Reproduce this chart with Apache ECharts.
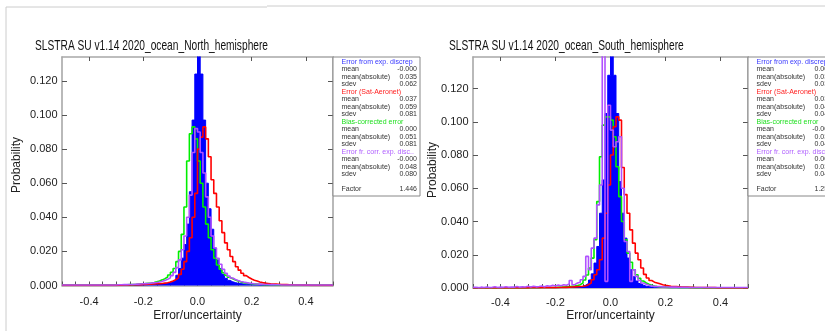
<!DOCTYPE html>
<html>
<head>
<meta charset="utf-8">
<script src="https://cdn.jsdelivr.net/npm/echarts@6/dist/echarts.min.js"></script>
<style>html,body{margin:0;padding:0;background:#fff}#c{width:825px;height:331px}</style>
</head>
<body>
<div id="c"></div>
<script>
// ---- data ----
const binStart = -0.5;
const binWidth = 0.01;
const xTickLabels = [-0.4, -0.2, 0, 0.2, 0.4];
const yTickLabels = [0, 0.02, 0.04, 0.06, 0.08, 0.10, 0.12];
const titles = ['SLSTRA SU v1.14 2020_ocean_North_hemisphere', 'SLSTRA SU v1.14 2020_ocean_South_hemisphere'];
const legendTitles = ['Error from exp. discrep', 'Error (Sat-Aeronet)', 'Bias-corrected error', 'Error fr. corr. exp. disc..'];
const statNames = ['mean', 'mean(absolute)', 'sdev'];
const statsNorth = [['-0.000','0.035','0.062'],['0.037','0.059','0.081'],['0.000','0.051','0.081'],['-0.000','0.048','0.080']];
const statsSouth = [['0.004','0.031','0.039'],['0.034','0.043','0.047'],['-0.000','0.032','0.045'],['0.004','0.033','0.043']];
const factorNorth = '1.446';
const factorSouth = '1.253';

const nBlue = [
0.0001,0.0001,0.0001,0.0001,0.0001,0.0001,0.0001,0.0001,0.0001,0.0001,
0.0001,0.0001,0.0001,0.0001,0.0001,0.0001,0.0001,0.0001,0.0001,0.0001,
0.0002,0.0002,0.0002,0.0003,0.0003,0.0003,0.0004,0.0004,0.0005,0.0005,
0.0006,0.0006,0.0007,0.0008,0.0009,0.0010,0.0011,0.0012,0.0014,0.0018,
0.0024,0.0035,0.0060,0.0100,0.0160,0.0240,0.0360,0.0550,0.0970,0.1240,
0.1700,0.1240,0.0970,0.0600,0.0450,0.0330,0.0220,0.0150,0.0100,0.0065,
0.0042,0.0030,0.0022,0.0017,0.0013,0.0011,0.0009,0.0008,0.0007,0.0006,
0.0005,0.0005,0.0004,0.0004,0.0003,0.0003,0.0003,0.0002,0.0002,0.0002,
0.0001,0.0001,0.0001,0.0001,0.0001,0.0001,0.0001,0.0001,0.0001,0.0001,
0.0001,0.0001,0.0001,0.0001,0.0001,0.0001,0.0001,0.0001,0.0001,0.0001];
const nRed = [
0.0001,0.0001,0.0001,0.0001,0.0001,0.0001,0.0001,0.0001,0.0001,0.0001,
0.0001,0.0001,0.0001,0.0001,0.0001,0.0001,0.0001,0.0001,0.0001,0.0001,
0.0002,0.0002,0.0003,0.0003,0.0003,0.0004,0.0004,0.0005,0.0005,0.0006,
0.0006,0.0007,0.0008,0.0009,0.0010,0.0011,0.0012,0.0014,0.0016,0.0020,
0.0026,0.0034,0.0045,0.0065,0.0095,0.0140,0.0200,0.0280,0.0400,0.0540,
0.0800,0.0870,0.0930,0.0860,0.0755,0.0620,0.0540,0.0460,0.0380,0.0310,
0.0250,0.0210,0.0170,0.0140,0.0110,0.0090,0.0072,0.0058,0.0047,0.0038,
0.0031,0.0026,0.0021,0.0017,0.0014,0.0012,0.0010,0.0009,0.0008,0.0007,
0.0006,0.0005,0.0005,0.0004,0.0004,0.0003,0.0003,0.0003,0.0002,0.0002,
0.0002,0.0001,0.0001,0.0001,0.0001,0.0001,0.0001,0.0001,0.0001,0.0001];
const nGreen = [
0.0002,0.0002,0.0002,0.0002,0.0002,0.0002,0.0002,0.0002,0.0002,0.0002,
0.0002,0.0002,0.0002,0.0002,0.0002,0.0002,0.0002,0.0002,0.0002,0.0002,
0.0003,0.0003,0.0004,0.0004,0.0005,0.0005,0.0006,0.0007,0.0008,0.0009,
0.0011,0.0013,0.0015,0.0018,0.0022,0.0027,0.0033,0.0040,0.0050,0.0062,
0.0078,0.0100,0.0140,0.0200,0.0300,0.0460,0.0730,0.0890,0.0930,0.0860,
0.0730,0.0600,0.0460,0.0360,0.0280,0.0210,0.0160,0.0120,0.0095,0.0075,
0.0060,0.0048,0.0039,0.0032,0.0026,0.0021,0.0017,0.0014,0.0012,0.0010,
0.0009,0.0008,0.0007,0.0006,0.0005,0.0005,0.0004,0.0004,0.0003,0.0003,
0.0002,0.0002,0.0002,0.0002,0.0002,0.0002,0.0002,0.0002,0.0002,0.0002,
0.0002,0.0002,0.0002,0.0002,0.0002,0.0002,0.0002,0.0002,0.0002,0.0002];
const nPurple = [
0.0003,0.0003,0.0003,0.0003,0.0003,0.0003,0.0003,0.0003,0.0003,0.0003,
0.0003,0.0003,0.0003,0.0003,0.0003,0.0003,0.0003,0.0003,0.0003,0.0003,
0.0004,0.0004,0.0005,0.0005,0.0006,0.0006,0.0007,0.0008,0.0009,0.0010,
0.0011,0.0012,0.0014,0.0016,0.0018,0.0021,0.0025,0.0030,0.0036,0.0045,
0.0058,0.0077,0.0105,0.0150,0.0210,0.0290,0.0400,0.0530,0.0780,0.0920,
0.0900,0.0780,0.0660,0.0520,0.0400,0.0290,0.0220,0.0160,0.0125,0.0095,
0.0072,0.0056,0.0044,0.0035,0.0029,0.0024,0.0020,0.0017,0.0014,0.0012,
0.0010,0.0009,0.0008,0.0007,0.0006,0.0006,0.0005,0.0005,0.0004,0.0004,
0.0003,0.0003,0.0003,0.0003,0.0003,0.0003,0.0003,0.0003,0.0003,0.0003,
0.0003,0.0003,0.0003,0.0003,0.0003,0.0003,0.0003,0.0003,0.0003,0.0003];

const sBlue = [
0.0001,0.0001,0.0001,0.0001,0.0001,0.0001,0.0001,0.0001,0.0001,0.0001,
0.0001,0.0001,0.0001,0.0001,0.0001,0.0001,0.0001,0.0001,0.0001,0.0001,
0.0001,0.0001,0.0001,0.0001,0.0002,0.0002,0.0002,0.0002,0.0002,0.0002,
0.0002,0.0003,0.0003,0.0004,0.0004,0.0005,0.0006,0.0007,0.0008,0.0010,
0.0017,0.0028,0.0048,0.0085,0.0150,0.0250,0.0450,0.0650,0.1050,0.1280,
0.1800,0.1280,0.1050,0.0640,0.0450,0.0300,0.0180,0.0110,0.0068,0.0042,
0.0027,0.0017,0.0011,0.0008,0.0006,0.0005,0.0004,0.0003,0.0003,0.0002,
0.0002,0.0001,0.0001,0.0001,0.0001,0.0001,0.0001,0.0001,0.0001,0.0001,
0.0001,0.0001,0.0001,0.0001,0.0001,0.0001,0.0001,0.0001,0.0001,0.0001,
0.0001,0.0001,0.0001,0.0001,0.0001,0.0001,0.0001,0.0001,0.0001,0.0001];
const sRed = [
0.0001,0.0001,0.0001,0.0001,0.0001,0.0001,0.0001,0.0001,0.0001,0.0001,
0.0001,0.0001,0.0001,0.0001,0.0001,0.0001,0.0001,0.0001,0.0001,0.0001,
0.0002,0.0002,0.0002,0.0002,0.0002,0.0002,0.0002,0.0002,0.0002,0.0002,
0.0003,0.0003,0.0004,0.0004,0.0005,0.0006,0.0007,0.0008,0.0009,0.0011,
0.0014,0.0020,0.0030,0.0050,0.0080,0.0110,0.0170,0.0300,0.0450,0.0620,
0.0800,0.0970,0.1030,0.1010,0.0725,0.0562,0.0450,0.0350,0.0270,0.0210,
0.0170,0.0120,0.0082,0.0060,0.0045,0.0035,0.0030,0.0025,0.0020,0.0016,
0.0013,0.0010,0.0009,0.0008,0.0007,0.0006,0.0005,0.0005,0.0004,0.0004,
0.0003,0.0003,0.0003,0.0002,0.0002,0.0002,0.0002,0.0002,0.0001,0.0001,
0.0001,0.0001,0.0001,0.0001,0.0001,0.0001,0.0001,0.0001,0.0001,0.0001];
const sGreen = [
0.0001,0.0001,0.0001,0.0001,0.0001,0.0001,0.0001,0.0001,0.0001,0.0001,
0.0001,0.0001,0.0001,0.0001,0.0001,0.0001,0.0001,0.0001,0.0001,0.0001,
0.0002,0.0002,0.0002,0.0002,0.0003,0.0003,0.0003,0.0003,0.0003,0.0003,
0.0004,0.0005,0.0006,0.0007,0.0008,0.0010,0.0012,0.0015,0.0020,0.0030,
0.0048,0.0078,0.0120,0.0180,0.0290,0.0520,0.0790,0.0980,0.1030,0.1030,
0.1010,0.0910,0.0730,0.0550,0.0400,0.0290,0.0210,0.0155,0.0110,0.0080,
0.0058,0.0042,0.0030,0.0022,0.0016,0.0012,0.0009,0.0007,0.0006,0.0005,
0.0004,0.0003,0.0003,0.0003,0.0002,0.0002,0.0002,0.0002,0.0002,0.0002,
0.0001,0.0001,0.0001,0.0001,0.0001,0.0001,0.0001,0.0001,0.0001,0.0001,
0.0001,0.0001,0.0001,0.0001,0.0001,0.0001,0.0001,0.0001,0.0001,0.0001];
const sPurple = [
0.0004,0.0002,0.0005,0.0003,0.0006,0.0003,0.0004,0.0007,0.0003,0.0005,
0.0004,0.0008,0.0004,0.0006,0.0005,0.0009,0.0005,0.0007,0.0006,0.0010,
0.0006,0.0011,0.0007,0.0009,0.0012,0.0008,0.0014,0.0010,0.0016,0.0012,
0.0018,0.0014,0.0020,0.0016,0.0024,0.0045,0.0020,0.0030,0.0035,0.0050,
0.0070,0.0190,0.0110,0.0240,0.0300,0.0500,0.0620,0.1600,0.0040,0.1100,
0.0950,0.0850,0.0880,0.0910,0.0600,0.0280,0.0220,0.0040,0.0110,0.0070,
0.0045,0.0030,0.0022,0.0017,0.0013,0.0010,0.0009,0.0008,0.0007,0.0006,
0.0006,0.0005,0.0005,0.0005,0.0004,0.0004,0.0004,0.0004,0.0003,0.0003,
0.0003,0.0003,0.0003,0.0003,0.0003,0.0003,0.0003,0.0003,0.0003,0.0003,
0.0003,0.0003,0.0003,0.0003,0.0003,0.0003,0.0003,0.0003,0.0003,0.0003];

// ---- styling / layout ----
const FONT = "'Liberation Sans', Arial, Helvetica, sans-serif";
const colBlue = '#0000ff', colRed = '#ff0000', colGreen = '#00ee00', colPurple = '#b050ff';
const legendColors = ['#3a3aff', '#ff2020', '#22e022', '#b060ff'];
const panels = [
  { grid: { left: 62, top: 57, width: 271, height: 228.5 }, ymax: 0.134, labelMargin: 11, series: [nBlue, nGreen, nRed, nPurple], stats: statsNorth, factor: factorNorth, boxX: 333, titleX: 35, ylabX: 16.5, ylabY: 165 },
  { grid: { left: 473, top: 57, width: 275, height: 231 }, ymax: 0.139, labelMargin: 9, series: [sBlue, sGreen, sRed, sPurple], stats: statsSouth, factor: factorSouth, boxX: 748, titleX: 449, ylabX: 432.5, ylabY: 170 }
];

function stepData(vals) {
  const d = vals.map((v, i) => [+(binStart + i * binWidth).toFixed(2), v]);
  d.push([+(binStart + vals.length * binWidth).toFixed(2), vals[vals.length - 1]]);
  return d;
}

const grid = [], xAxis = [], yAxis = [], series = [], graphic = [];
const axisLineStyle = { color: '#a8a8a8', width: 1.6 };
const tickStyle = { color: '#555', width: 1 };

panels.forEach((p, k) => {
  grid.push(p.grid);
  xAxis.push({
    gridIndex: k, type: 'value', min: -0.5, max: 0.5, interval: 0.05, position: 'bottom',
    axisLine: { show: true, onZero: false, lineStyle: axisLineStyle },
    axisTick: { show: true, inside: true, length: 4, lineStyle: tickStyle },
    axisLabel: { customValues: xTickLabels, formatter: v => v.toFixed(1), color: '#222', fontSize: 11, fontFamily: FONT, margin: p.labelMargin },
    splitLine: { show: false }
  });
  xAxis.push({
    gridIndex: k, type: 'value', min: -0.5, max: 0.5, interval: 0.05, position: 'top',
    axisLine: { show: true, onZero: false, lineStyle: axisLineStyle },
    axisTick: { show: true, inside: true, length: 4, customValues: xTickLabels, lineStyle: tickStyle },
    axisLabel: { show: false }, splitLine: { show: false }
  });
  yAxis.push({
    gridIndex: k, type: 'value', min: 0, max: p.ymax, position: 'left',
    axisLine: { show: true, onZero: false, lineStyle: axisLineStyle },
    axisTick: { show: true, inside: true, length: 5, customValues: yTickLabels, lineStyle: tickStyle },
    axisLabel: { customValues: yTickLabels, formatter: v => v.toFixed(3), color: '#222', fontSize: 11, fontFamily: FONT, margin: 4.5 },
    splitLine: { show: false }
  });
  yAxis.push({
    gridIndex: k, type: 'value', min: 0, max: p.ymax, position: 'right',
    axisLine: { show: true, onZero: false, lineStyle: axisLineStyle },
    axisTick: { show: true, inside: true, length: 5, customValues: yTickLabels, lineStyle: tickStyle },
    axisLabel: { show: false }, splitLine: { show: false }
  });
  const cols = [colBlue, colGreen, colRed, colPurple];
  p.series.forEach((vals, j) => {
    const s = {
      type: 'line', xAxisIndex: k * 2, yAxisIndex: k * 2, data: stepData(vals), step: 'end',
      symbol: 'none', silent: true, animation: false, z: 2 + j,
      lineStyle: { color: cols[j], width: j === 0 ? 1 : 1.6 }
    };
    if (j === 0) s.areaStyle = { color: colBlue, opacity: 1 };
    series.push(s);
  });

  // titles and axis names
  graphic.push({ type: 'text', x: p.titleX, y: 46, scaleX: 0.68, style: { text: titles[k], font: '15px ' + FONT, fill: '#111', textAlign: 'left', align: 'left', textVerticalAlign: 'middle', verticalAlign: 'middle' } });
  graphic.push({ type: 'text', x: p.grid.left + p.grid.width / 2, y: 316, style: { text: 'Error/uncertainty', font: '12px ' + FONT, fill: '#222', textAlign: 'center', align: 'center', textVerticalAlign: 'middle', verticalAlign: 'middle' } });
  graphic.push({ type: 'text', x: p.ylabX, y: p.ylabY, rotation: Math.PI / 2, style: { text: 'Probability', font: '12px ' + FONT, fill: '#222', textAlign: 'center', align: 'center', textVerticalAlign: 'middle', verticalAlign: 'middle' } });

  // stats box
  graphic.push({ type: 'rect', shape: { x: p.boxX, y: 57, width: 87, height: 139 }, style: { fill: '#fff', stroke: '#888', lineWidth: 1 }, z: 10 });
  const tx = p.boxX + 8.5, vx = p.boxX + 84;
  for (let g = 0; g < 4; g++) {
    const y0 = 62 + 7.5 * g * 4;
    graphic.push({ type: 'text', x: tx, y: y0, z: 11, style: { text: legendTitles[g], font: '7px ' + FONT, fill: legendColors[g], textAlign: 'left', align: 'left', textVerticalAlign: 'middle', verticalAlign: 'middle' } });
    for (let r = 0; r < 3; r++) {
      const y = y0 + 7.5 * (r + 1);
      graphic.push({ type: 'text', x: tx, y: y, z: 11, style: { text: statNames[r], font: '7px ' + FONT, fill: '#333', textAlign: 'left', align: 'left', textVerticalAlign: 'middle', verticalAlign: 'middle' } });
      graphic.push({ type: 'text', x: vx, y: y, z: 11, style: { text: p.stats[g][r], font: '7px ' + FONT, fill: '#333', textAlign: 'right', align: 'right', textVerticalAlign: 'middle', verticalAlign: 'middle' } });
    }
  }
  graphic.push({ type: 'text', x: tx, y: 62 + 7.5 * 17, z: 11, style: { text: 'Factor', font: '7px ' + FONT, fill: '#333', textAlign: 'left', align: 'left', textVerticalAlign: 'middle', verticalAlign: 'middle' } });
  graphic.push({ type: 'text', x: vx, y: 62 + 7.5 * 17, z: 11, style: { text: p.factor, font: '7px ' + FONT, fill: '#333', textAlign: 'right', align: 'right', textVerticalAlign: 'middle', verticalAlign: 'middle' } });
});

// panel frame lines
graphic.push({ type: 'line', shape: { x1: 6, y1: 7, x2: 267, y2: 7 }, style: { stroke: '#ccc', lineWidth: 1 } });
graphic.push({ type: 'line', shape: { x1: 6, y1: 7, x2: 6, y2: 331 }, style: { stroke: '#ccc', lineWidth: 1 } });
graphic.push({ type: 'line', shape: { x1: 267, y1: 6, x2: 825, y2: 6 }, style: { stroke: '#ccc', lineWidth: 1 } });

const chart = echarts.init(document.getElementById('c'), null, { renderer: 'canvas' });
chart.setOption({ animation: false, backgroundColor: '#fff', grid, xAxis, yAxis, series, graphic });
</script>
</body>
</html>
